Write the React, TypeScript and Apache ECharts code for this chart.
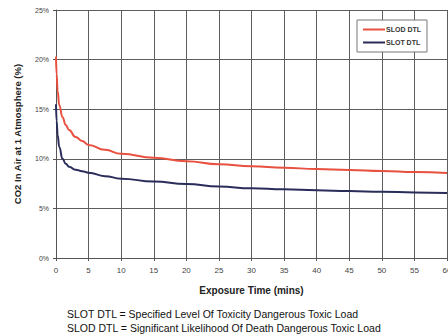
import React, { useEffect, useRef } from "react";
import * as echarts from "echarts";

const timeMins = [0, 0.1, 0.25, 0.5, 1, 1.5, 2, 3, 4, 5, 7.5, 10, 15, 20, 25, 30, 35, 40, 45, 50, 55, 60];
const slodValues = [20.3, 18.5, 16.8, 15.4, 14.2, 13.4, 12.9, 12.2, 11.8, 11.4, 10.9, 10.5, 10.1, 9.75, 9.45, 9.25, 9.1, 8.97, 8.88, 8.78, 8.67, 8.58];
const slotValues = [15.5, 13.8, 12.4, 11.2, 10.0, 9.5, 9.2, 8.9, 8.75, 8.6, 8.25, 8.0, 7.7, 7.45, 7.2, 7.03, 6.92, 6.83, 6.75, 6.68, 6.61, 6.55];
const seriesNames = ["SLOD DTL", "SLOT DTL"];
const footnotes = [
  "SLOT DTL = Specified Level Of Toxicity Dangerous Toxic Load",
  "SLOD DTL = Significant Likelihood Of Death Dangerous Toxic Load",
];

export default function App() {
  const ref = useRef<HTMLDivElement>(null);
  useEffect(() => {
    if (!ref.current) return;
    const chart = echarts.init(ref.current, null, { renderer: "svg" });
    const font = "Liberation Sans, Arial, sans-serif";
    chart.setOption({
      animation: false,
      backgroundColor: "#ffffff",
      textStyle: { fontFamily: font },
      grid: {
        left: 56,
        right: 1,
        top: 10,
        height: 248,
        show: false,
        containLabel: false,
        outerBoundsMode: "none",
      },
      legend: {
        orient: "vertical",
        left: 357,
        top: 20,
        width: 72,
        padding: [6, 6, 6, 6],
        itemGap: 6,
        itemWidth: 22,
        itemHeight: 2,
        icon: "rect",
        backgroundColor: "#ffffff",
        borderColor: "#777",
        borderWidth: 1,
        textStyle: { fontSize: 7, color: "#333", fontFamily: font, fontWeight: "bold", padding: [0, 0, 0, -4] },
        data: seriesNames,
      },
      xAxis: {
        type: "value",
        min: 0,
        max: 60,
        interval: 5,
        name: "Exposure Time (mins)",
        nameLocation: "middle",
        nameGap: 27,
        nameTextStyle: { fontSize: 10, fontWeight: "bold", color: "#222", fontFamily: font },
        axisLine: { show: true, lineStyle: { color: "#555", width: 1 } },
        axisTick: { show: true, length: 3, lineStyle: { color: "#555" } },
        axisLabel: { fontSize: 8, color: "#444", margin: 8, fontFamily: font },
        splitLine: { show: true, lineStyle: { color: "#5e5e5e", width: 1 } },
      },
      yAxis: {
        type: "value",
        min: 0,
        max: 25,
        interval: 5,
        name: "CO2 In Air at 1 Atmosphere (%)",
        nameLocation: "middle",
        nameGap: 34,
        nameTextStyle: { fontSize: 9.5, fontWeight: "bold", color: "#222", fontFamily: font },
        axisLine: { show: true, lineStyle: { color: "#555", width: 1 } },
        axisTick: { show: true, length: 3, lineStyle: { color: "#555" } },
        axisLabel: { fontSize: 7, color: "#444", margin: 7, formatter: "{value}%", fontFamily: font },
        splitLine: { show: true, lineStyle: { color: "#5e5e5e", width: 1 } },
      },
      series: [
        {
          name: seriesNames[0],
          type: "line",
          smooth: true,
          smoothMonotone: "x",
          showSymbol: false,
          symbol: "none",
          color: "#e8503f",
          lineStyle: { width: 2, color: "#e8503f" },
          data: timeMins.map((t, i) => [t, slodValues[i]]),
        },
        {
          name: seriesNames[1],
          type: "line",
          smooth: true,
          smoothMonotone: "x",
          showSymbol: false,
          symbol: "none",
          color: "#2a2c5a",
          lineStyle: { width: 2, color: "#2a2c5a" },
          data: timeMins.map((t, i) => [t, slotValues[i]]),
        },
      ],
      graphic: [
        {
          type: "text",
          left: 67,
          top: 308,
          style: { text: footnotes[0], fontSize: 10.5, fill: "#111", fontFamily: font },
        },
        {
          type: "text",
          left: 67,
          top: 322,
          style: { text: footnotes[1], fontSize: 10.5, fill: "#111", fontFamily: font },
        },
      ],
    });
    return () => chart.dispose();
  }, []);
  return <div ref={ref} style={{ width: 448, height: 336, position: "absolute", left: 0, top: 0 }} />;
}
